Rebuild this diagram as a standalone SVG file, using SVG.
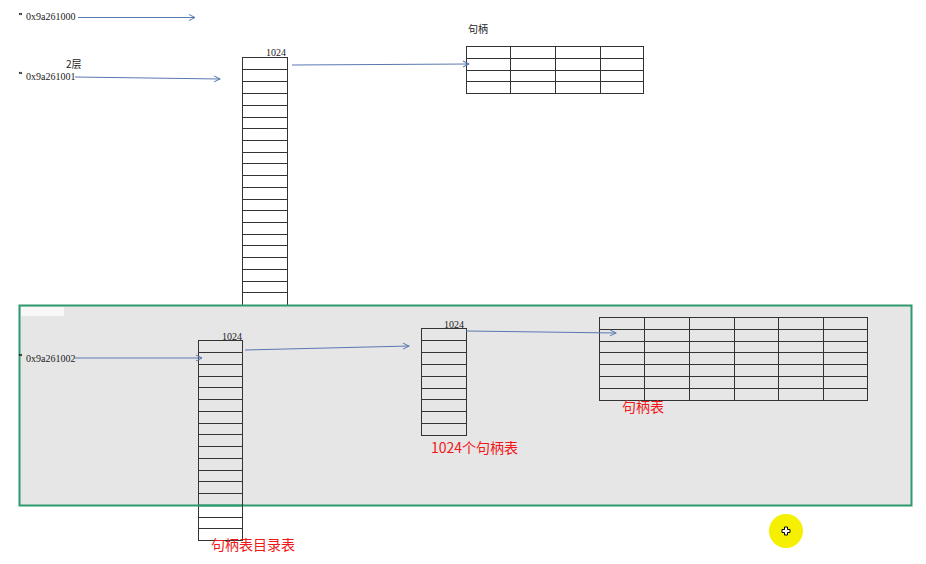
<svg xmlns="http://www.w3.org/2000/svg" width="926" height="564" viewBox="0 0 926 564">
<style>
.grid{fill:none;stroke:#333;stroke-width:1}
.cell{stroke:#333;stroke-width:1}
.addr{font-family:"Liberation Serif",serif;font-size:10px;fill:#222}
.tick{stroke:#222;stroke-width:1.2}
.num{font-family:"Liberation Serif",serif;font-size:10px;fill:#222}
.red{font-family:"Noto Sans CJK SC","Noto Sans",sans-serif;font-size:14px;fill:#f01818}
.lbl{font-family:"Noto Sans CJK SC","Noto Sans",sans-serif;font-size:10px;fill:#222}
.arr{fill:none;stroke:#5a78b0;stroke-width:1;marker-end:url(#ah)}
</style>
<defs>
<marker id="ah" markerWidth="8" markerHeight="8" refX="7" refY="4" orient="auto" markerUnits="userSpaceOnUse">
<path d="M1,1 L7,4 L1,7" fill="none" stroke="#5a78b0" stroke-width="1"/>
</marker>
</defs>
<rect width="926" height="564" fill="#fff"/>

<g id="top-labels">
<path class="tick" d="M20 15L19.5 13M21.5 15L21 13"/>
<text class="addr" x="26" y="20">0x9a261000</text>
<text class="lbl" x="66" y="68">2层</text>
<path class="tick" d="M20 74L19.5 72M21.5 74L21 72"/>
<text class="addr" x="26" y="80">0x9a261001</text>
</g>

<g id="top-column">
<text class="num" x="266" y="56">1024</text>
<rect class="grid" x="242.5" y="57.5" width="45" height="250"/>
<path class="cell" d="M242 69.5H287M242 81.5H287M242 93.5H287M242 105.5H287M242 117.5H287M242 128.5H287M242 140.5H287M242 152.5H287M242 163.5H287M242 175.5H287M242 187.5H287M242 199.5H287M242 210.5H287M242 222.5H287M242 234.5H287M242 245.5H287M242 257.5H287M242 269.5H287M242 281.5H287M242 292.5H287"/>
</g>

<g id="top-table">
<text class="lbl" x="468" y="33">句柄</text>
<rect class="grid" x="466.5" y="46.5" width="177" height="47"/>
<path class="cell" d="M466 58.5H644M466 70.5H644M466 81.5H644M510.5 46V93M555.5 46V93M600.5 46V93"/>
</g>

<g id="region">
<rect x="19.5" y="305.5" width="892" height="200" fill="#e6e6e6" stroke="#2e9a6e" stroke-width="2"/>
<rect x="21" y="307" width="43" height="9" fill="#f8f8f8"/>
</g>

<g id="dir-column">
<path class="tick" d="M20 356L19.5 354M21.5 356L21 354"/>
<text class="addr" x="26" y="362">0x9a261002</text>
<text class="num" x="222" y="340">1024</text>
<rect class="grid" x="198.5" y="340.5" width="44" height="200"/>
<path class="cell" d="M198 352.5H242M198 364.5H242M198 376.5H242M198 387.5H242M198 399.5H242M198 411.5H242M198 423.5H242M198 434.5H242M198 446.5H242M198 458.5H242M198 470.5H242M198 481.5H242M198 493.5H242M198 505.5H242M198 517.5H242M198 528.5H242"/>
<text class="red" x="211" y="550">句柄表目录表</text>
</g>
<path d="M198 505.5H242" stroke="#2e9a6e" stroke-width="2"/>

<g id="handle-tables">
<text class="num" x="444" y="328">1024</text>
<rect class="grid" x="421.5" y="328.5" width="45" height="107"/>
<path class="cell" d="M421 340.5H466M421 352.5H466M421 364.5H466M421 376.5H466M421 388.5H466M421 399.5H466M421 411.5H466M421 423.5H466"/>
<text class="red" x="431" y="453">1024个句柄表</text>
</g>

<g id="handle-table">
<rect class="grid" x="599.5" y="317.5" width="268" height="83"/>
<path class="cell" d="M599 329.5H867M599 341.5H867M599 352.5H867M599 364.5H867M599 376.5H867M599 388.5H867M644.5 317V400M689.5 317V400M734.5 317V400M778.5 317V400M823.5 317V400"/>
<text class="red" x="622" y="412">句柄表</text>
</g>

<g id="connectors">
<path class="arr" d="M78 17.5H195"/>
<path class="arr" d="M75 77L220 79"/>
<path class="arr" d="M292 65L469 64"/>
<path class="arr" d="M75 358H202"/>
<path class="arr" d="M245 350L409 346"/>
<path class="arr" d="M466 331L616 333"/>
</g>

<g id="cursor">
<circle cx="786" cy="531" r="17" fill="#f5f000"/>
<path d="M784.5 527h3v2.5h2.5v3h-2.5v2.5h-3v-2.5h-2.5v-3h2.5z" fill="#fff" stroke="#000" stroke-width="1"/>
</g>
</svg>
